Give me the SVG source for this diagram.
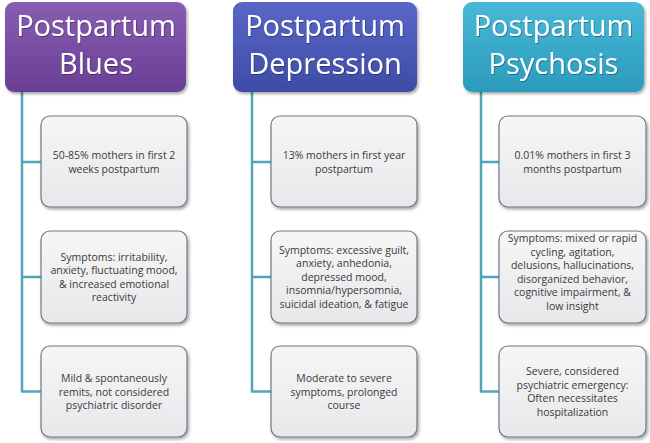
<svg xmlns="http://www.w3.org/2000/svg" width="650" height="443" viewBox="0 0 650 443">
<defs>
<linearGradient id="gPurple" x1="0" y1="0" x2="0" y2="1"><stop offset="0" stop-color="#875eb2"/><stop offset="1" stop-color="#6a3e94"/></linearGradient>
<linearGradient id="gBlue" x1="0" y1="0" x2="0" y2="1"><stop offset="0" stop-color="#5966c6"/><stop offset="1" stop-color="#3e4ca6"/></linearGradient>
<linearGradient id="gTeal" x1="0" y1="0" x2="0" y2="1"><stop offset="0" stop-color="#48b9d6"/><stop offset="1" stop-color="#2b9bbd"/></linearGradient>
<linearGradient id="gBox" x1="0" y1="0" x2="0" y2="1"><stop offset="0" stop-color="#f6f6f6"/><stop offset="1" stop-color="#e8e8eb"/></linearGradient>
<filter id="sh" x="-10%" y="-10%" width="125%" height="130%"><feDropShadow dx="1.5" dy="2" stdDeviation="1.5" flood-color="#000" flood-opacity="0.35"/></filter>
<filter id="tsh" x="-5%" y="-5%" width="110%" height="120%"><feDropShadow dx="0.8" dy="1" stdDeviation="0.6" flood-color="#000" flood-opacity="0.35"/></filter>
</defs>
<style>
.head{font-family:"Open Sans","Noto Sans",sans-serif;font-size:29px;fill:#ffffff;text-anchor:middle;filter:url(#tsh)}
.hbox{stroke:none;filter:url(#sh)}
.cbox{fill:url(#gBox);stroke:#6d7886;stroke-width:1.2;filter:url(#sh)}
.body{font-family:"Open Sans","Noto Sans",sans-serif;font-size:10.5px;fill:#3a3a3a;text-anchor:middle}
.conn{fill:none;stroke:#4ea6b9;stroke-width:2.5}
</style>
<rect width="650" height="443" fill="#ffffff"/>

<g id="connectors">
<path class="conn" d="M22,92 V391.5 M21,162 H41 M21,277 H41 M21,391.5 H41"/>
<path class="conn" d="M252,92 V391.5 M251,162 H271 M251,277 H271 M251,391.5 H271"/>
<path class="conn" d="M481,92 V391.5 M480,162 H499 M480,277 H499 M480,391.5 H499"/>
</g>

<g id="head-blues">
<rect class="hbox" x="5" y="2" width="181" height="90" rx="9" fill="url(#gPurple)"/>
<text class="head"><tspan x="96" y="36">Postpartum</tspan><tspan x="96" y="74">Blues</tspan></text>
</g>
<g id="head-depression">
<rect class="hbox" x="233" y="2" width="184" height="90" rx="9" fill="url(#gBlue)"/>
<text class="head"><tspan x="325" y="36">Postpartum</tspan><tspan x="325" y="74">Depression</tspan></text>
</g>
<g id="head-psychosis">
<rect class="hbox" x="463" y="2" width="181" height="90" rx="9" fill="url(#gTeal)"/>
<text class="head"><tspan x="553.5" y="36">Postpartum</tspan><tspan x="553.5" y="74">Psychosis</tspan></text>
</g>

<g id="blues-1">
<rect class="cbox" x="41" y="116" width="146" height="91" rx="9"/>
<text class="body"><tspan x="114" y="159">50-85% mothers in first 2</tspan><tspan x="114" y="172.5">weeks postpartum</tspan></text>
</g>
<g id="blues-2">
<rect class="cbox" x="41" y="231" width="146" height="92" rx="9"/>
<text class="body"><tspan x="114" y="260.5">Symptoms: irritability,</tspan><tspan x="114" y="274">anxiety, fluctuating mood,</tspan><tspan x="114" y="287.5">&amp; increased emotional</tspan><tspan x="114" y="301">reactivity</tspan></text>
</g>
<g id="blues-3">
<rect class="cbox" x="41" y="346" width="146" height="91" rx="9"/>
<text class="body"><tspan x="114" y="382">Mild &amp; spontaneously</tspan><tspan x="114" y="395.5">remits, not considered</tspan><tspan x="114" y="409">psychiatric disorder</tspan></text>
</g>

<g id="depression-1">
<rect class="cbox" x="271" y="116" width="146" height="91" rx="9"/>
<text class="body"><tspan x="344" y="159">13% mothers in first year</tspan><tspan x="344" y="172.5">postpartum</tspan></text>
</g>
<g id="depression-2">
<rect class="cbox" x="271" y="231" width="146" height="92" rx="9"/>
<text class="body"><tspan x="344" y="253.5">Symptoms: excessive guilt,</tspan><tspan x="344" y="267">anxiety, anhedonia,</tspan><tspan x="344" y="280.5">depressed mood,</tspan><tspan x="344" y="294">insomnia/hypersomnia,</tspan><tspan x="344" y="307.5">suicidal ideation, &amp; fatigue</tspan></text>
</g>
<g id="depression-3">
<rect class="cbox" x="271" y="346" width="146" height="91" rx="9"/>
<text class="body"><tspan x="344" y="382">Moderate to severe</tspan><tspan x="344" y="395.5">symptoms, prolonged</tspan><tspan x="344" y="409">course</tspan></text>
</g>

<g id="psychosis-1">
<rect class="cbox" x="499" y="116" width="147" height="91" rx="9"/>
<text class="body"><tspan x="572.5" y="159">0.01% mothers in first 3</tspan><tspan x="572.5" y="172.5">months postpartum</tspan></text>
</g>
<g id="psychosis-2">
<rect class="cbox" x="499" y="231" width="147" height="92" rx="9"/>
<text class="body"><tspan x="572.5" y="242">Symptoms: mixed or rapid</tspan><tspan x="572.5" y="255.5">cycling, agitation,</tspan><tspan x="572.5" y="269">delusions, hallucinations,</tspan><tspan x="572.5" y="282.5">disorganized behavior,</tspan><tspan x="572.5" y="296">cognitive impairment, &amp;</tspan><tspan x="572.5" y="309.5">low insight</tspan></text>
</g>
<g id="psychosis-3">
<rect class="cbox" x="499" y="346" width="147" height="91" rx="9"/>
<text class="body"><tspan x="572.5" y="375">Severe, considered</tspan><tspan x="572.5" y="388.5">psychiatric emergency:</tspan><tspan x="572.5" y="402">Often necessitates</tspan><tspan x="572.5" y="415.5">hospitalization</tspan></text>
</g>
</svg>
